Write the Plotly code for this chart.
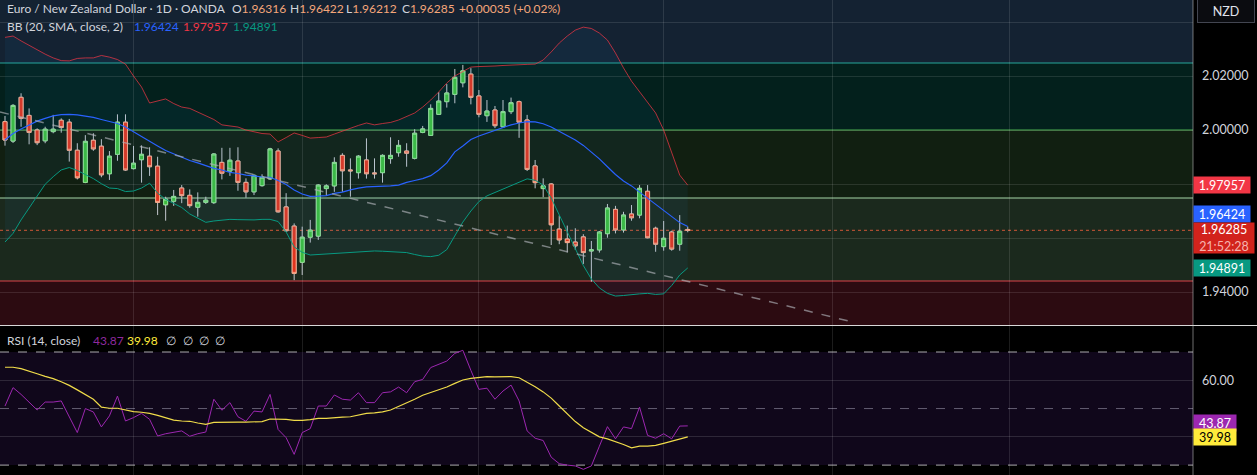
import plotly.graph_objects as go

# ---------------- data ----------------
opens = [2.0031,1.9959,2.0121,2.0054,2.0000,1.9960,1.9994,2.0036,2.0029,1.9925,
         1.9806,1.9962,1.9940,1.9838,1.9910,2.0029,1.9857,1.9890,1.9903,1.9866,
         1.9723,1.9736,1.9785,1.9758,1.9714,1.9732,1.9731,1.9880,1.9848,1.9885,
         1.9806,1.9771,1.9794,1.9819,1.9922,1.9715,1.9644,1.9510,1.9603,1.9607,
         1.9783,1.9793,1.9906,1.9852,1.9842,1.9889,1.9841,1.9842,1.9894,1.9916,
         1.9922,1.9895,1.9991,1.9980,2.0058,2.0105,2.0132,2.0175,2.0207,2.0126,
         2.0053,2.0074,2.0012,2.0068,2.0105,2.0037,1.9867,1.9783,1.9800,1.9633,
         1.9596,1.9585,1.9604,1.9552,1.9556,1.9616,1.9706,1.9630,1.9689,1.9685,
         1.9773,1.9636,1.9568,1.9622,1.9577,1.96316]
highs = [2.0052,2.0096,2.0136,2.0080,2.0006,2.0012,2.0056,2.0043,2.0041,1.9951,
         1.9981,1.9988,1.9966,1.9922,2.0058,2.0058,1.9941,1.9943,1.9936,1.9901,
         1.9753,1.9778,1.9796,1.9780,1.9769,1.9753,1.9914,1.9934,1.9934,1.9936,
         1.9821,1.9836,1.9836,1.9934,1.9932,1.9766,1.9654,1.9642,1.9667,1.9799,
         1.9799,1.9899,1.9914,1.9895,1.9907,1.9969,1.9895,1.9910,1.9973,1.9963,
         1.9951,2.0003,2.0015,2.0095,2.0140,2.0170,2.0226,2.0241,2.0229,2.0148,
         2.0111,2.0089,2.0111,2.0120,2.0109,2.0056,1.9889,1.9821,1.9803,1.9683,
         1.9646,1.9636,1.9614,1.9589,1.9626,1.9726,1.9719,1.9697,1.9722,1.9796,
         1.9796,1.9642,1.9663,1.9627,1.9685,1.96422]
lows = [1.9942,1.9952,2.0012,1.9947,1.9944,1.9951,1.9988,1.9990,1.9883,1.9817,
        1.9803,1.9923,1.9825,1.9815,1.9886,1.9849,1.9854,1.9805,1.9830,1.9685,
        1.9664,1.9719,1.9729,1.9712,1.9679,1.9726,1.9726,1.9817,1.9830,1.9775,
        1.9749,1.9759,1.9790,1.9815,1.9694,1.9623,1.9444,1.9463,1.9583,1.9593,
        1.9756,1.9771,1.9771,1.9753,1.9820,1.9820,1.9820,1.9805,1.9875,1.9901,
        1.9864,1.9891,1.9988,1.9978,2.0056,2.0083,2.0099,2.0158,2.0095,2.0047,
        2.0030,2.0007,2.0009,2.0059,1.9971,1.9848,1.9784,1.9751,1.9574,1.9577,
        1.9547,1.9556,1.9504,1.9438,1.9546,1.9601,1.9617,1.9620,1.9664,1.9673,
        1.9599,1.9549,1.9553,1.9553,1.9553,1.96212]
closes = [1.9963,2.0091,2.0043,1.9991,1.9953,2.0003,2.0003,2.0009,1.9925,1.9823,
          1.9958,1.9930,1.9834,1.9903,2.0029,1.9852,1.9877,1.9910,1.9864,1.9732,
          1.9744,1.9754,1.9757,1.9720,1.9732,1.9740,1.9911,1.9840,1.9888,1.9806,
          1.9771,1.9832,1.9825,1.9930,1.9697,1.9627,1.9469,1.9603,1.9629,1.9796,
          1.9793,1.9880,1.9849,1.9849,1.9903,1.9838,1.9838,1.9906,1.9906,1.9943,
          1.9914,1.9988,2.0004,2.0080,2.0107,2.0137,2.0195,2.0219,2.0121,2.0058,
          2.0070,2.0016,2.0068,2.0101,2.0029,1.9854,1.9805,1.9793,1.9649,1.9593,
          1.9583,1.9571,1.9546,1.9556,1.9622,1.9711,1.9630,1.9685,1.9675,1.9784,
          1.9601,1.9577,1.9599,1.9559,1.9625,1.96285]

bb_upper = [2.0343,2.0348,2.0330,2.0313,2.0296,2.0281,2.0267,2.0257,2.0256,2.0265,
            2.0267,2.0267,2.0276,2.0270,2.0261,2.0244,2.0200,2.0159,2.0100,2.0107,
            2.0115,2.0098,2.0085,2.0080,2.0067,2.0054,2.0039,2.0019,2.0015,2.0011,
            2.0000,1.9993,1.9987,1.9985,1.9956,1.9972,1.9989,1.9980,1.9970,1.9972,
            1.9974,1.9985,1.9996,2.0007,2.0017,2.0026,2.0019,2.0024,2.0028,2.0037,
            2.0050,2.0063,2.0085,2.0111,2.0141,2.0174,2.0200,2.0215,2.0233,2.0235,
            2.0235,2.0237,2.0239,2.0241,2.0241,2.0243,2.0244,2.0259,2.0289,2.0322,
            2.0348,2.0370,2.0381,2.0376,2.0359,2.0333,2.0285,2.0230,2.0181,2.0141,
            2.0104,2.0063,2.0000,1.9919,1.9833,1.97957]
bb_basis = [1.9963,1.9987,2.0004,2.0019,2.0033,2.0043,2.0052,2.0057,2.0058,2.0056,
            2.0052,2.0047,2.0039,2.0031,2.0024,2.0011,1.9993,1.9974,1.9957,1.9941,
            1.9924,1.9911,1.9898,1.9887,1.9878,1.9869,1.9858,1.9852,1.9843,1.9839,
            1.9833,1.9830,1.9826,1.9825,1.9813,1.9798,1.9778,1.9763,1.9754,1.9755,
            1.9757,1.9765,1.9770,1.9778,1.9785,1.9789,1.9790,1.9790,1.9793,1.9796,
            1.9806,1.9813,1.9820,1.9831,1.9852,1.9878,1.9919,1.9941,1.9965,1.9978,
            1.9988,2.0000,2.0009,2.0019,2.0026,2.0031,2.0030,2.0023,2.0011,1.9996,
            1.9981,1.9963,1.9943,1.9919,1.9893,1.9864,1.9835,1.9811,1.9793,1.9770,
            1.9747,1.9724,1.9700,1.9678,1.9657,1.96424]
bb_lower = [1.9585,1.9617,1.9667,1.9711,1.9754,1.9799,1.9827,1.9852,1.9861,1.9850,
            1.9835,1.9820,1.9801,1.9785,1.9783,1.9772,1.9774,1.9785,1.9803,1.9766,
            1.9743,1.9728,1.9713,1.9689,1.9672,1.9658,1.9663,1.9666,1.9669,1.9668,
            1.9667,1.9667,1.9669,1.9669,1.9661,1.9622,1.9567,1.9547,1.9537,1.9539,
            1.9540,1.9542,1.9544,1.9547,1.9549,1.9552,1.9552,1.9551,1.9549,1.9548,
            1.9546,1.9539,1.9533,1.9531,1.9536,1.9557,1.9607,1.9659,1.9700,1.9735,
            1.9756,1.9769,1.9781,1.9794,1.9809,1.9819,1.9814,1.9796,1.9748,1.9687,
            1.9623,1.9559,1.9498,1.9448,1.9415,1.9395,1.9385,1.9387,1.9391,1.9393,
            1.9395,1.9391,1.9393,1.9424,1.9463,1.94891]

rsi = [50.9,57.4,55.0,52.1,49.5,52.3,52.3,52.7,47.1,41.5,
       50.0,48.8,43.5,47.4,54.4,45.6,46.8,48.3,46.2,40.3,
       41.1,41.7,42.1,40.2,41.1,41.7,53.3,49.4,52.1,47.1,
       45.5,49.1,48.8,55.0,42.6,39.7,33.8,41.5,42.9,50.9,
       50.9,54.8,53.3,53.0,55.6,52.1,52.1,55.6,55.9,57.6,
       55.6,59.5,60.3,64.5,65.7,66.8,69.5,70.6,63.5,56.8,
       57.2,53.3,56.2,58.3,52.7,42.1,39.5,38.7,32.8,30.5,
       30.0,29.7,28.5,29.7,36.7,43.6,39.3,43.5,42.9,50.5,
       40.5,39.5,41.1,39.3,43.8,43.87]
rsi_ma = [64.6,64.6,64.1,63.3,62.3,61.4,60.6,59.5,58.2,56.6,
          55.0,53.3,50.5,50.1,50.1,49.4,48.9,48.7,48.3,47.6,
          46.8,45.9,45.6,45.5,44.9,44.4,45.1,45.2,45.2,45.2,
          45.2,45.2,45.4,46.3,46.3,46.2,45.8,45.8,46.1,46.5,
          46.5,46.8,47.0,47.1,47.8,48.3,48.5,48.8,49.5,50.7,
          52.1,53.3,54.7,55.6,56.6,57.6,58.9,60.1,60.7,60.9,
          61.3,61.2,61.2,61.3,60.9,59.4,57.7,55.9,53.7,50.9,
          48.0,45.4,43.2,41.5,40.0,39.3,38.4,37.3,36.1,36.7,
          36.7,37.0,37.7,38.4,39.3,39.98]

# drawn objects on the chart
trend_x = [-0.62, 106.0]
trend_y = [2.00667, 1.92852]
level_prices = [2.02481, 2.00000, 1.97481, 1.94407]
level_colors = ["#26a69a", "#4caf50", "#a5d6a7", "#d9454a"]
zone_edges = [2.048148, 2.02481, 2.00000, 1.97481, 1.94407, 1.927778]
zone_colors = ["#142232", "#03201c", "#111f11", "#1b291d", "#2c0b11"]
month_grid = [16, 37, 59, 82, 103, 125]
price_ticks = [2.04, 2.02, 2.00, 1.98, 1.96, 1.94]
price_ticktext = ["", "2.02000", "2.00000", "", "", "1.94000"]

last_open, last_high, last_low, last_close = 1.96316, 1.96422, 1.96212, 1.96285
change_text = "+0.00035 (+0.02%)"
countdown = "21:52:28"

idx = list(range(len(closes)))
PLOT_W = 1193.0
FONT = "Lato"
TXT = "#d1d4dc"

fig = go.Figure()

# Bollinger bands
fig.add_trace(go.Scatter(x=idx, y=bb_upper, mode="lines",
                         line=dict(color="rgba(242,54,69,0.72)", width=1),
                         hoverinfo="skip", xaxis="x", yaxis="y"))
fig.add_trace(go.Scatter(x=idx, y=bb_lower, mode="lines", fill="tonexty",
                         fillcolor="rgba(33,150,243,0.06)",
                         line=dict(color="#089981", width=1),
                         hoverinfo="skip", xaxis="x", yaxis="y"))
fig.add_trace(go.Scatter(x=idx, y=bb_basis, mode="lines",
                         line=dict(color="#2962ff", width=1.2),
                         hoverinfo="skip", xaxis="x", yaxis="y"))
# trend line
fig.add_trace(go.Scatter(x=trend_x, y=trend_y, mode="lines",
                         line=dict(color="rgba(175,178,185,0.65)", width=1.5, dash="dash"),
                         hoverinfo="skip", xaxis="x", yaxis="y"))

# candles: wicks first, then bodies on top
fig.add_trace(go.Candlestick(
    x=idx, open=opens, high=highs, low=lows, close=closes,
    increasing=dict(line=dict(color="#c3c6cc", width=1), fillcolor="rgba(0,0,0,0)"),
    decreasing=dict(line=dict(color="#c3c6cc", width=1), fillcolor="rgba(0,0,0,0)"),
    hoverinfo="skip", xaxis="x", yaxis="y"))
body_hi = [max(o, c) for o, c in zip(opens, closes)]
body_lo = [min(o, c) for o, c in zip(opens, closes)]
fig.add_trace(go.Candlestick(
    x=idx, open=opens, high=body_hi, low=body_lo, close=closes,
    increasing=dict(line=dict(color="#8fe08f", width=1), fillcolor="#3dbb3d"),
    decreasing=dict(line=dict(color="#f8a788", width=1), fillcolor="#e0351f"),
    hoverinfo="skip", xaxis="x", yaxis="y"))

# RSI pane
fig.add_trace(go.Scatter(x=idx, y=rsi, mode="lines",
                         line=dict(color="#9c27b0", width=1),
                         hoverinfo="skip", xaxis="x2", yaxis="y2"))
fig.add_trace(go.Scatter(x=idx, y=rsi_ma, mode="lines",
                         line=dict(color="#f0dc4a", width=1.2),
                         hoverinfo="skip", xaxis="x2", yaxis="y2"))

shapes = []
for i, col in enumerate(zone_colors):
    shapes.append(dict(type="rect", xref="paper", yref="y", x0=0, x1=1,
                       y0=zone_edges[i + 1], y1=zone_edges[i],
                       fillcolor=col, line=dict(width=0), layer="below"))
for p, col in zip(level_prices, level_colors):
    shapes.append(dict(type="line", xref="paper", yref="y", x0=0, x1=1, y0=p, y1=p,
                       line=dict(color=col, width=1), layer="between"))
shapes.append(dict(type="line", xref="paper", yref="y", x0=0, x1=1,
                   y0=last_close, y1=last_close,
                   line=dict(color="rgba(240,95,60,0.85)", width=1, dash="dot"),
                   layer="between"))
# RSI background band and levels
shapes.append(dict(type="rect", xref="paper", yref="y2", x0=0, x1=1, y0=30, y1=70,
                   fillcolor="#10071b", line=dict(width=0), layer="below"))
for lv, col in [(70, "rgba(225,225,230,0.75)"), (50, "rgba(170,165,185,0.55)"),
                (30, "rgba(225,225,230,0.75)")]:
    shapes.append(dict(type="line", xref="paper", yref="y2", x0=0, x1=1, y0=lv, y1=lv,
                       line=dict(color=col, width=1, dash="dash"), layer="between"))
# pane separator and price-scale border
shapes.append(dict(type="line", xref="paper", yref="paper", x0=0, x1=1.06,
                   y0=0.3147, y1=0.3147, line=dict(color="#d8d8d8", width=1.2)))
shapes.append(dict(type="line", xref="paper", yref="paper", x0=1.0, x1=1.0,
                   y0=0, y1=1, line=dict(color="rgba(200,200,200,0.55)", width=1)))


def px(xp):
    return xp / PLOT_W


def py(yp):
    return 1 - yp / 475.0


ann = []


def txt(x, y, s, color=TXT, size=12):
    ann.append(dict(xref="paper", yref="paper", x=px(x), y=py(y), text=s,
                    showarrow=False, xanchor="left", yanchor="middle",
                    font=dict(family=FONT, size=size, color=color)))


VAL = "#f5a67a"
txt(5, 9, "Euro / New Zealand Dollar · 1D · OANDA")
txt(230, 9, f"O<span style='color:{VAL}'>{last_open:.5f}</span>")
txt(288, 9, f"H<span style='color:{VAL}'>{last_high:.5f}</span>")
txt(344, 9, f"L<span style='color:{VAL}'>{last_low:.5f}</span>")
txt(400, 9, f"C<span style='color:{VAL}'>{last_close:.5f}</span>")
txt(457, 9, change_text, VAL)
txt(5, 26, "BB (20, SMA, close, 2)")
txt(132, 26, f"{bb_basis[-1]:.5f}", "#2962ff")
txt(181, 26, f"{bb_upper[-1]:.5f}", "#f23645")
txt(231, 26, f"{bb_lower[-1]:.5f}", "#089981")
txt(5, 340, "RSI (14, close)")
txt(91, 340, f"{rsi[-1]:.2f}", "#8e2a9e")
txt(125, 340, f"{rsi_ma[-1]:.2f}", "#ffeb3b")
for k, xx in enumerate([164, 181, 197, 213]):
    txt(xx, 340, "∅")

# NZD box
ann.append(dict(xref="paper", yref="paper", x=px(1226), y=py(11.5), text="NZD",
                showarrow=False, xanchor="center", yanchor="middle",
                bgcolor="#0b0c10", bordercolor="#434651", borderwidth=1,
                borderpad=3, width=50, height=16,
                font=dict(family=FONT, size=12.5, color="#e0e3eb")))


def badge(yref, val, text, bg, fg="#ffffff", shift=0, w=54, h=14):
    ann.append(dict(xref="paper", yref=yref, x=1.0, y=val, text=text,
                    showarrow=False, xanchor="left", yanchor="middle",
                    yshift=shift, bgcolor=bg, borderpad=1, width=w, height=h,
                    align="center",
                    font=dict(family=FONT, size=12.5, color=fg)))


badge("y", bb_upper[-1], f"{bb_upper[-1]:.5f}", "#f23645")
badge("y", bb_basis[-1], f"{bb_basis[-1]:.5f}", "#2962ff", shift=12.5)
badge("y", last_close, f"{last_close:.5f}<br><span style='color:#f6b3ae'>{countdown}</span>",
      "#d2231c", shift=-7.5, w=58, h=28)
badge("y", bb_lower[-1], f"{bb_lower[-1]:.5f}", "#089981")
badge("y2", rsi[-1], f"{rsi[-1]:.2f}", "#9c27b0", shift=2.5, w=40)
badge("y2", rsi_ma[-1], f"{rsi_ma[-1]:.2f}", "#ffeb3b", fg="#000000", w=40)

grid = "rgba(255,255,255,0.11)"
xcommon = dict(range=[-0.623, 147.9], tickvals=month_grid, showticklabels=False,
               showgrid=True, gridcolor=grid, gridwidth=1, zeroline=False,
               showline=False, ticks="", fixedrange=True)

fig.update_layout(
    width=1257, height=475,
    margin=dict(l=0, r=64, t=0, b=0),
    paper_bgcolor="#000000", plot_bgcolor="#000000",
    showlegend=False,
    boxgap=0.3,
    xaxis=dict(domain=[0, 1], anchor="y", rangeslider=dict(visible=False), **xcommon),
    xaxis2=dict(domain=[0, 1], anchor="y2", matches="x", **xcommon),
    yaxis=dict(domain=[0.3158, 1], range=[1.927778, 2.048148], side="right",
               tickvals=price_ticks, ticktext=price_ticktext, showgrid=True,
               gridcolor=grid, zeroline=False, ticks="", ticklabelstandoff=8,
               tickfont=dict(family=FONT, size=12.5, color=TXT), fixedrange=True),
    yaxis2=dict(domain=[0, 0.3137], range=[26.5, 79.2], side="right",
                tickvals=[40, 60], ticktext=["", "60.00"], showgrid=True,
                gridcolor="rgba(255,255,255,0.13)", zeroline=False, ticks="",
                ticklabelstandoff=8,
                tickfont=dict(family=FONT, size=12.5, color=TXT), fixedrange=True),
    shapes=shapes,
    annotations=ann,
)

fig.write_html("out.html",
               config={"displayModeBar": False},
               post_script="document.body.style.margin='0';"
                           "document.body.style.overflow='hidden';"
                           "document.body.style.background='#000';")
